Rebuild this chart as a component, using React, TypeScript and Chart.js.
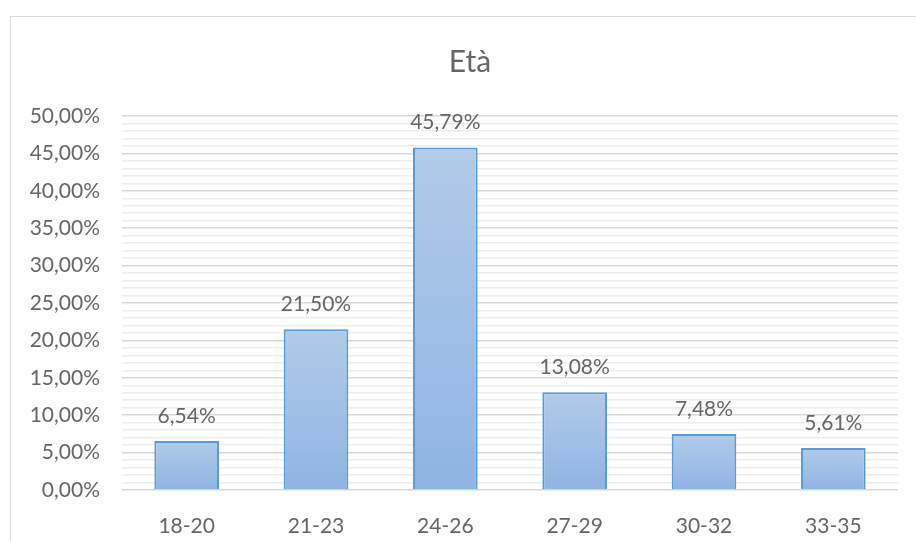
import React, { useEffect, useRef } from "react";
import { Chart, registerables } from "chart.js";

Chart.register(...registerables);

const categories = ["18-20", "21-23", "24-26", "27-29", "30-32", "33-35"];
const shares = [6.54, 21.5, 45.79, 13.08, 7.48, 5.61];
const chartTitle = "Età";
const yMax = 50;
const majorStep = 5;

const FONT = "Lato, 'Liberation Sans', sans-serif";
const TEXT = "#666666";

const fmtPct = (v: number) => v.toFixed(2).replace(".", ",") + "%";

// Frame, title and value labels drawn around the bar chart
const decorPlugin = {
  id: "decor",
  beforeDraw(chart: any) {
    const { ctx } = chart;
    ctx.save();
    ctx.strokeStyle = "#d9d9d9";
    ctx.lineWidth = 1;
    ctx.strokeRect(10.5, 16.5, chart.width + 20, chart.height + 20);
    ctx.fillStyle = TEXT;
    ctx.font = `30px ${FONT}`;
    ctx.textAlign = "center";
    ctx.textBaseline = "alphabetic";
    ctx.fillText(chartTitle, 470, 72);
    ctx.restore();
  },
  afterDatasetsDraw(chart: any) {
    const { ctx } = chart;
    const meta = chart.getDatasetMeta(0);
    ctx.save();
    ctx.fillStyle = TEXT;
    ctx.font = `21px ${FONT}`;
    ctx.textAlign = "center";
    ctx.textBaseline = "alphabetic";
    meta.data.forEach((bar: any, i: number) => {
      ctx.fillText(fmtPct(shares[i]), bar.x, bar.y - 18);
    });
    ctx.restore();
  },
};

export default function App() {
  const ref = useRef<HTMLCanvasElement>(null);

  useEffect(() => {
    if (!ref.current) return;
    const chart = new Chart(ref.current, {
      type: "bar",
      data: {
        labels: categories,
        datasets: [
          {
            data: shares,
            backgroundColor: (c: any) => {
              const ch = c.chart;
              const y = ch.scales?.y;
              if (!ch.chartArea || !y || c.parsed == null) return "#9dbde6";
              const top = y.getPixelForValue(c.parsed.y);
              const bottom = y.getPixelForValue(0);
              const g = ch.ctx.createLinearGradient(0, top, 0, bottom);
              g.addColorStop(0, "#b1cbe9");
              g.addColorStop(1, "#8fb4e3");
              return g;
            },
            borderColor: "#5b9bd5",
            borderWidth: 2,
            borderSkipped: "bottom",
            categoryPercentage: 1,
            barPercentage: 0.5,
          },
        ],
      },
      options: {
        animation: false,
        responsive: false,
        layout: { padding: { left: 10, right: 18, top: 116, bottom: 0 } },
        plugins: {
          legend: { display: false },
          tooltip: { enabled: false },
          title: { display: false },
        },
        scales: {
          x: {
            grid: { display: false },
            border: { display: false },
            ticks: { color: TEXT, font: { family: FONT, size: 21 }, padding: 16 },
            afterFit: (s: any) => {
              s.height = 51;
            },
          },
          y: {
            min: 0,
            max: yMax,
            border: { display: false },
            grid: {
              drawTicks: false,
              color: (c: any) =>
                c.tick && c.tick.value % majorStep === 0 ? "#d9d9d9" : "#eeeeee",
              lineWidth: 1.5,
            },
            ticks: {
              stepSize: 1,
              autoSkip: false,
              color: TEXT,
              font: { family: FONT, size: 21 },
              padding: 22,
              callback: (v: any) => (Number(v) % majorStep === 0 ? fmtPct(Number(v)) : ""),
            },
            afterFit: (s: any) => {
              s.width = 112;
            },
          },
        },
      },
      plugins: [decorPlugin],
    });
    return () => chart.destroy();
  }, []);

  return (
    <div style={{ position: "fixed", left: 0, top: 0, width: 916, height: 541, background: "#fff" }}>
      <canvas ref={ref} width={916} height={541} style={{ display: "block" }} />
    </div>
  );
}
